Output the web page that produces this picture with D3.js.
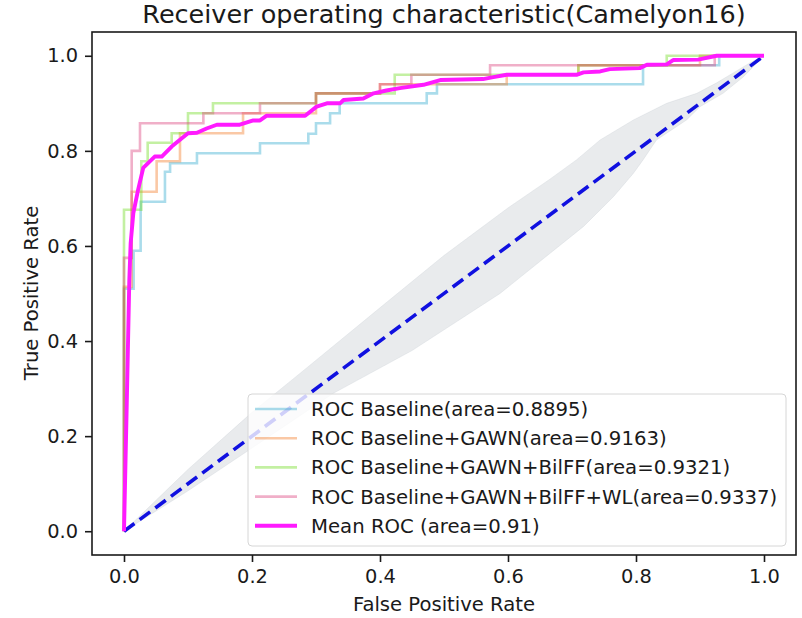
<!DOCTYPE html>
<html>
<head>
<meta charset="utf-8">
<script src="https://cdn.jsdelivr.net/npm/d3@7"></script>
<style>
  body { margin: 0; background: #fff; }
  text { font-family: "DejaVu Sans", sans-serif; fill: #1a1a1a; }
</style>
</head>
<body>
<svg width="802" height="618"></svg>
<script>
// ROC points
var fprBase = [0, 0, 0.015, 0.015, 0.026, 0.026, 0.064, 0.064, 0.072, 0.072, 0.114, 0.114, 0.2125, 0.2125, 0.288, 0.288, 0.30, 0.30, 0.322, 0.322, 0.337, 0.337, 0.473, 0.473, 0.489, 0.489, 0.811, 0.811, 0.93, 0.93, 1];
var tprBase = [0, 0.51, 0.51, 0.59, 0.59, 0.693, 0.693, 0.756, 0.756, 0.774, 0.774, 0.795, 0.795, 0.816, 0.816, 0.836, 0.836, 0.858, 0.858, 0.879, 0.879, 0.90, 0.90, 0.921, 0.921, 0.94, 0.94, 0.98, 0.98, 1, 1];

var fprGawn = [0, 0, 0.012, 0.012, 0.051, 0.051, 0.0875, 0.0875, 0.186, 0.186, 0.30, 0.30, 0.40, 0.40, 0.598, 0.598, 0.71, 0.71, 0.90, 0.90, 1];
var tprGawn = [0, 0.514, 0.514, 0.714, 0.714, 0.778, 0.778, 0.837, 0.837, 0.879, 0.879, 0.921, 0.921, 0.94, 0.94, 0.96, 0.96, 0.98, 0.98, 1, 1];

var fprBilff = [0, 0, 0.027, 0.027, 0.037, 0.037, 0.0745, 0.0745, 0.10, 0.10, 0.139, 0.139, 0.30, 0.30, 0.423, 0.423, 0.71, 0.71, 0.848, 0.848, 1];
var tprBilff = [0, 0.676, 0.676, 0.778, 0.778, 0.817, 0.817, 0.837, 0.837, 0.879, 0.879, 0.90, 0.90, 0.921, 0.921, 0.96, 0.96, 0.98, 0.98, 1, 1];

var fprWl = [0, 0, 0.012, 0.012, 0.025, 0.025, 0.124, 0.124, 0.2125, 0.2125, 0.30, 0.30, 0.40, 0.40, 0.449, 0.449, 0.572, 0.572, 0.923, 0.923, 1];
var tprWl = [0, 0.575, 0.575, 0.80, 0.80, 0.858, 0.858, 0.879, 0.879, 0.90, 0.90, 0.921, 0.921, 0.94, 0.94, 0.96, 0.96, 0.98, 0.98, 1, 1];

var fprMean = [0, 0.004, 0.0083, 0.0104, 0.0146, 0.022, 0.030, 0.048, 0.059, 0.0745, 0.10, 0.114, 0.129, 0.145, 0.181, 0.202, 0.2125, 0.223, 0.283, 0.301, 0.317, 0.3375, 0.343, 0.374, 0.39, 0.41, 0.431, 0.468, 0.494, 0.561, 0.577, 0.598, 0.707, 0.718, 0.744, 0.759, 0.806, 0.817, 0.848, 0.858, 0.897, 0.926, 1.0];
var tprMean = [0, 0.248, 0.528, 0.606, 0.669, 0.718, 0.764, 0.788, 0.788, 0.809, 0.837, 0.838, 0.847, 0.855, 0.855, 0.864, 0.864, 0.874, 0.874, 0.893, 0.90, 0.90, 0.907, 0.91, 0.921, 0.927, 0.932, 0.939, 0.949, 0.951, 0.955, 0.96, 0.96, 0.965, 0.967, 0.972, 0.974, 0.981, 0.982, 0.991, 0.992, 1.0, 1.0];

// grey band round the chance line
var bandUpperX = [0, 0.1, 0.2, 0.275, 0.4, 0.5, 0.6, 0.665, 0.707, 0.744, 0.796, 0.848, 0.895, 0.926, 0.952, 0.978, 1];
var bandUpperY = [0, 0.13, 0.25, 0.332, 0.47, 0.58, 0.68, 0.74, 0.781, 0.823, 0.865, 0.90, 0.921, 0.943, 0.964, 0.985, 1];
var bandLowerX = [0, 0.1, 0.2, 0.327, 0.45, 0.5875, 0.718, 0.765, 0.796, 0.811, 0.832, 0.879, 0.9, 0.936, 0.968, 1];
var bandLowerY = [0, 0.085, 0.175, 0.29, 0.38, 0.5, 0.641, 0.704, 0.753, 0.781, 0.823, 0.865, 0.893, 0.921, 0.956, 1];

var labels = ['ROC Baseline(area=0.8895)', 'ROC Baseline+GAWN(area=0.9163)', 'ROC Baseline+GAWN+BilFF(area=0.9321)', 'ROC Baseline+GAWN+BilFF+WL(area=0.9337)', 'Mean ROC (area=0.91)'];
var ticks = [0, 0.2, 0.4, 0.6, 0.8, 1.0];

var svg = d3.select('svg');
var colors = ['#2aa7cd', '#f3761e', '#69d916', '#da3776'];

var x = d3.scaleLinear().domain([-0.05, 1.05]).range([92, 796]);
var y = d3.scaleLinear().domain([-0.05, 1.05]).range([555, 32]);

function zip(xs, ys) {
  return xs.map(function(v, i) { return [v, ys[i]]; });
}

var line = d3.line()
  .x(function(d) { return x(d[0]); })
  .y(function(d) { return y(d[1]); });

var curves = [zip(fprBase, tprBase), zip(fprGawn, tprGawn), zip(fprBilff, tprBilff), zip(fprWl, tprWl)];

svg.selectAll('.roc').data(curves).enter().append('path')
  .attr('class', 'roc')
  .attr('d', line)
  .attr('fill', 'none')
  .attr('stroke', function(d, i) { return colors[i]; })
  .attr('stroke-opacity', 0.4)
  .attr('stroke-width', 2.6);

// band polygon: upper edge forward then lower edge back
var band = zip(bandUpperX, bandUpperY).concat(zip(bandLowerX, bandLowerY).reverse());
svg.append('path')
  .attr('d', line(band) + 'Z')
  .attr('fill', '#c4cbcf')
  .attr('fill-opacity', 0.38)
  .attr('stroke', '#c4cbcf')
  .attr('stroke-opacity', 0.3);

svg.append('path')
  .attr('d', line([[0, 0], [1, 1]]))
  .attr('stroke', '#1010e0')
  .attr('stroke-width', 3.6)
  .attr('stroke-dasharray', '13,6.5')
  .attr('fill', 'none');

svg.append('path')
  .attr('d', line(zip(fprMean, tprMean)))
  .attr('fill', 'none')
  .attr('stroke', '#ff1aff')
  .attr('stroke-width', 3.9)
  .attr('stroke-linejoin', 'round');

// axes
var xAxis = d3.axisBottom(x).tickValues(ticks).tickFormat(d3.format('.1f')).tickSize(7).tickPadding(7);
var yAxis = d3.axisLeft(y).tickValues(ticks).tickFormat(d3.format('.1f')).tickSize(7).tickPadding(7);

var gx = svg.append('g').attr('transform', 'translate(0,555)').call(xAxis);
var gy = svg.append('g').attr('transform', 'translate(92,0)').call(yAxis);
[gx, gy].forEach(function(g) {
  g.select('.domain').remove();
  g.selectAll('line').attr('stroke', '#1a1a1a').attr('stroke-width', 1.6);
  g.selectAll('text').style('font-size', '19.4px').style('font-family', 'DejaVu Sans').attr('fill', '#1a1a1a');
});

svg.append('rect')
  .attr('x', 92).attr('y', 32).attr('width', 704).attr('height', 523)
  .attr('fill', 'none').attr('stroke', '#1a1a1a').attr('stroke-width', 1.6);

svg.append('text')
  .attr('x', 444).attr('y', 23)
  .attr('text-anchor', 'middle')
  .style('font-size', '25.5px')
  .text('Receiver operating characteristic(Camelyon16)');

svg.append('text')
  .attr('x', 444).attr('y', 611)
  .attr('text-anchor', 'middle')
  .style('font-size', '19.6px')
  .text('False Positive Rate');

svg.append('text')
  .attr('transform', 'translate(38,293) rotate(-90)')
  .attr('text-anchor', 'middle')
  .style('font-size', '19.6px')
  .text('True Positive Rate');

// legend
var legend = svg.append('g');
legend.append('rect')
  .attr('x', 248).attr('y', 394).attr('width', 538).attr('height', 152).attr('rx', 4)
  .attr('fill', '#fff').attr('fill-opacity', 0.8)
  .attr('stroke', '#d6d6d6');

var rows = legend.selectAll('g').data(labels).enter().append('g')
  .attr('transform', function(d, i) { return 'translate(0,' + (409 + i * 29.2) + ')'; });
rows.append('line')
  .attr('x1', 255).attr('x2', 297)
  .attr('stroke', function(d, i) { return i < 4 ? colors[i] : '#ff1aff'; })
  .attr('stroke-opacity', function(d, i) { return i < 4 ? 0.4 : 1; })
  .attr('stroke-width', function(d, i) { return i < 4 ? 2.6 : 3.9; });
rows.append('text')
  .attr('x', 311).attr('y', 7)
  .style('font-size', '19.7px')
  .text(function(d) { return d; });
</script>
</body>
</html>
